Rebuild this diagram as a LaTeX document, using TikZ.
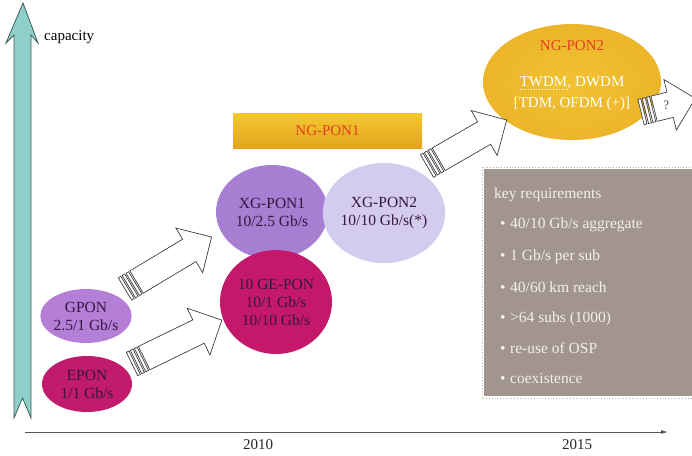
\documentclass[tikz,border=0pt]{standalone}
\usepackage{fontspec}
\setmainfont{Liberation Serif}
\usetikzlibrary{shapes.geometric,arrows.meta}
\definecolor{tealfill}{HTML}{8FCFCB}
\definecolor{tealline}{HTML}{3F5F5C}
\definecolor{gponc}{HTML}{B57FD8}
\definecolor{eponc}{HTML}{C21A6C}
\definecolor{xg1c}{HTML}{A67ED2}
\definecolor{xg2c}{HTML}{D4CCEE}
\definecolor{gec}{HTML}{C4196B}
\definecolor{golda}{HTML}{F4C831}
\definecolor{goldb}{HTML}{E3A51E}
\definecolor{goldc}{HTML}{F1C232}
\definecolor{goldd}{HTML}{ECB52A}
\definecolor{redtxt}{HTML}{E2401C}
\definecolor{darktxt}{HTML}{35163F}
\definecolor{boxc}{HTML}{A1958D}
\definecolor{boxtxt}{HTML}{F5F0EA}
\definecolor{axisc}{HTML}{555555}
\tikzset{
  pon/.style={ellipse, inner sep=0pt, align=center, text=darktxt,
    font=\fontsize{15.5}{18}\selectfont},
  barrow/.style={draw=black!75, fill=white, line width=0.7pt, line join=miter},
  yeartxt/.style={font=\fontsize{15}{18}\selectfont, text=black!85},
  keytxt/.style={anchor=base west, inner sep=0pt, text=boxtxt,
    font=\fontsize{15.5}{18}\selectfont},
  ngtxt/.style={inner sep=0pt, font=\fontsize{15}{18}\selectfont}
}
\newcommand\blockarrow[4]{%
  \begin{scope}[shift={(#1)},rotate=#2]
    \draw[barrow] (13.5,-13) -- ({#3-26},-13) -- ({#3-26},-26) -- (#3,0)
      -- ({#3-26},26) -- ({#3-26},13) -- (13.5,13) -- cycle;
    \foreach \s in {0,4.5,9} \draw[barrow] (\s,-13) rectangle ({\s+3},13);
    #4
  \end{scope}}
\begin{document}
\begin{tikzpicture}[x=1pt,y=-1pt]
\useasboundingbox (0,0) rectangle (692,455);
\clip (0,0) rectangle (692,455);
% vertical capacity arrow
\draw[fill=tealfill, draw=tealline, line width=0.8pt, line join=miter]
  (23,3) -- (38,43) -- (31,35) -- (31,418) -- (22.5,398) -- (14,418)
  -- (14,35) -- (6,43) -- cycle;
\node[anchor=west, inner sep=0pt, font=\fontsize{15}{18}\selectfont] (cap) at (44,37) {capacity};
% time axis
\coordinate (ax0) at (25,432);
\coordinate (ax1) at (668,432);
\draw[axisc, line width=0.9pt, -{Latex[length=7pt,width=4pt]}] (ax0) -- (ax1);
\node[yeartxt] (y2010) at (258,445) {2010};
\node[yeartxt] (y2015) at (577,445) {2015};
% NG-PON1 bar
\node[rectangle, minimum width=189pt, minimum height=35pt, inner sep=0pt,
  top color=golda, bottom color=goldb, text=redtxt,
  font=\fontsize{15}{18}\selectfont] (ngpon1) at (327.5,130.5) {NG-PON1};
% ellipses
\node[pon, fill=gponc, minimum width=88pt, minimum height=54pt] (gpon) at (86,316) {GPON\\2.5/1 Gb/s};
\node[pon, fill=eponc, minimum width=90pt, minimum height=56pt] (epon) at (87,384) {EPON\\1/1 Gb/s};
\node[pon, fill=xg1c, minimum width=112pt, minimum height=94pt] (xg1) at (272,212) {XG-PON1\\10/2.5 Gb/s};
\node[pon, fill=xg2c, minimum width=112pt, minimum height=100pt] (xg2) at (384,213) {XG-PON2\\10/10 Gb/s(*)};
\node[pon, fill=gec, minimum width=112pt, minimum height=104pt] (gepon) at (276,302) {10 GE-PON\\10/1 Gb/s\\10/10 Gb/s};
% NG-PON2
\node[ellipse, minimum width=178pt, minimum height=116pt, inner sep=0pt,
  inner color=goldc, outer color=goldd] (ngpon2) at (572,82) {};
\node[ngtxt, text=redtxt] (ng2t) at (572,46) {NG-PON2};
\node[ngtxt, text=white, anchor=base east] (twdm) at (567.5,86) {TWDM};
\node[ngtxt, text=white, anchor=base west] (dwdm) at (twdm.base east) {, DWDM};
\draw[white, dotted, line width=0.8pt] ([yshift=-3pt]twdm.base west) -- ([yshift=-3pt]twdm.base east);
\node[ngtxt, text=white] (tdm) at (572,104) {[TDM, OFDM (+)]};
% key requirements box
\draw[gray!60, dotted, line width=0.8pt] (482,167) rectangle (695,398);
\fill[boxc] (484,169) rectangle (692,396);
\node[keytxt] (kr) at (494,198) {key requirements};
\node[keytxt] (kb1) at (500,228) {\textbullet};
\node[keytxt] (ki1) at (510,228) {40/10 Gb/s aggregate};
\node[keytxt] (kb2) at (500,260) {\textbullet};
\node[keytxt] (ki2) at (510,260) {1 Gb/s per sub};
\node[keytxt] (kb3) at (500,292) {\textbullet};
\node[keytxt] (ki3) at (510,292) {40/60 km reach};
\node[keytxt] (kb4) at (500,322) {\textbullet};
\node[keytxt] (ki4) at (510,322) {>64 subs (1000)};
\node[keytxt] (kb5) at (500,353) {\textbullet};
\node[keytxt] (ki5) at (510,353) {re-use of OSP};
\node[keytxt] (kb6) at (500,383) {\textbullet};
\node[keytxt] (ki6) at (510,383) {coexistence};
% block arrows
\coordinate (t1) at (125,289);
\coordinate (t2) at (132,364);
\coordinate (t3) at (427,166);
\coordinate (t4) at (641,112);
\blockarrow{t1}{31}{101}{}
\blockarrow{t2}{26}{100}{}
\blockarrow{t3}{30}{92}{}
\blockarrow{t4}{14}{56}{\node[inner sep=0pt, font=\fontsize{13}{15}\selectfont, text=black!70] (q) at (26,0) {?};}
\end{tikzpicture}
\end{document}
